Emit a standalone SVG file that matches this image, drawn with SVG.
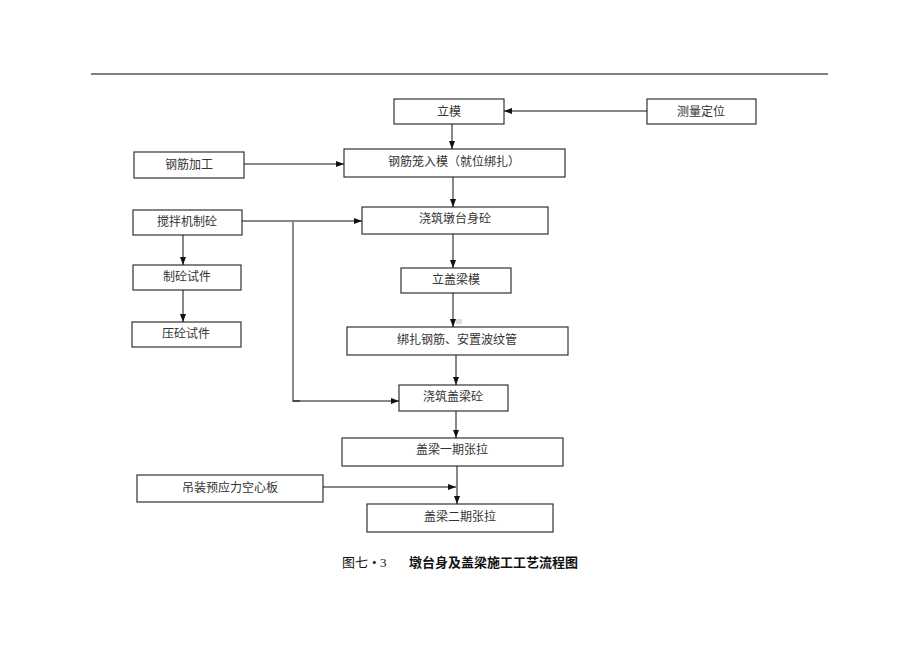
<svg xmlns="http://www.w3.org/2000/svg" width="920" height="651" viewBox="0 0 920 651">
<style>
.box{fill:#fff;stroke:#333;stroke-width:1.2}
.t{font-family:"Liberation Serif","Noto Sans CJK SC",serif;font-size:12px;fill:#333;text-anchor:middle}
.c{stroke:#111;stroke-width:1;fill:none}
.g{stroke:#888;stroke-width:2;fill:none}
.cap{font-family:"Liberation Serif","Noto Sans CJK SC",serif;font-size:13px;fill:#111}
</style>
<defs>
<marker id="ah" markerWidth="8" markerHeight="6" refX="8" refY="3" orient="auto" markerUnits="userSpaceOnUse">
<path d="M0,0 L8,3 L0,6 Z" fill="#111"/>
</marker>
</defs>
<rect width="920" height="651" fill="#fff"/>
<line x1="91" y1="74" x2="828" y2="74" stroke="#555" stroke-width="1.5"/>

<g id="n1"><rect class="box" x="394" y="99" width="110" height="25"/><text class="t" x="449" y="116">立模</text></g>
<g id="n2"><rect class="box" x="647" y="99" width="109" height="25"/><text class="t" x="701" y="116">测量定位</text></g>
<g id="n3"><rect class="box" x="134" y="152" width="110" height="26"/><text class="t" x="189" y="169">钢筋加工</text></g>
<g id="n4"><rect class="box" x="344" y="149" width="221" height="28"/><text class="t" x="454" y="166">钢筋笼入模（就位绑扎）</text></g>
<g id="n5"><rect class="box" x="133" y="210" width="109" height="25"/><text class="t" x="187" y="226">搅拌机制砼</text></g>
<g id="n6"><rect class="box" x="362" y="207" width="186" height="27"/><text class="t" x="455" y="223">浇筑墩台身砼</text></g>
<g id="n7"><rect class="box" x="133" y="265" width="108" height="25"/><text class="t" x="187" y="281">制砼试件</text></g>
<g id="n8"><rect class="box" x="401" y="268" width="110" height="25"/><text class="t" x="456" y="284">立盖梁模</text></g>
<g id="n9"><rect class="box" x="132" y="322" width="109" height="25"/><text class="t" x="186" y="338">压砼试件</text></g>
<g id="n10"><rect class="box" x="347" y="327" width="221" height="28"/><text class="t" x="457" y="344">绑扎钢筋、安置波纹管</text></g>
<g id="n11"><rect class="box" x="399" y="385" width="109" height="26"/><text class="t" x="453" y="401">浇筑盖梁砼</text></g>
<g id="n12"><rect class="box" x="342" y="438" width="221" height="28"/><text class="t" x="452" y="454">盖梁一期张拉</text></g>
<g id="n13"><rect class="box" x="137" y="475" width="186" height="27"/><text class="t" x="230" y="492">吊装预应力空心板</text></g>
<g id="n14"><rect class="box" x="367" y="504" width="186" height="28"/><text class="t" x="460" y="521">盖梁二期张拉</text></g>

<rect x="456" y="319" width="6" height="5" fill="#ddd"/>

<g id="connectors">
<line class="c" x1="647" y1="111" x2="504" y2="111" marker-end="url(#ah)"/>
<line class="c" x1="452" y1="124" x2="452" y2="149" marker-end="url(#ah)"/>
<line class="c" x1="244" y1="164" x2="344" y2="164" marker-end="url(#ah)"/>
<line class="c" x1="453" y1="177" x2="453" y2="207" marker-end="url(#ah)"/>
<line class="c" x1="242" y1="221" x2="362" y2="221" marker-end="url(#ah)"/>
<line class="c" x1="183" y1="235" x2="183" y2="265" marker-end="url(#ah)"/>
<line class="c" x1="183" y1="290" x2="183" y2="322" marker-end="url(#ah)"/>
<line class="c" x1="453" y1="234" x2="453" y2="268" marker-end="url(#ah)"/>
<line class="c" x1="453" y1="293" x2="453" y2="327" marker-end="url(#ah)"/>
<line class="c" x1="456" y1="355" x2="456" y2="385" marker-end="url(#ah)"/>
<polyline class="g" points="293,222 293,401 300,401"/>
<line class="c" x1="293" y1="401" x2="399" y2="401" marker-end="url(#ah)"/>
<line class="c" x1="456" y1="411" x2="456" y2="438" marker-end="url(#ah)"/>
<line class="c" x1="323" y1="487" x2="456" y2="487" marker-end="url(#ah)"/>
<line class="c" x1="457" y1="466" x2="457" y2="504" marker-end="url(#ah)"/>
</g>

<text class="cap" x="342" y="567">图七<tspan x="372">•</tspan><tspan x="380">3</tspan></text>
<text class="cap" x="409" y="567" font-weight="bold">墩台身及盖梁施工工艺流程图</text>
</svg>
